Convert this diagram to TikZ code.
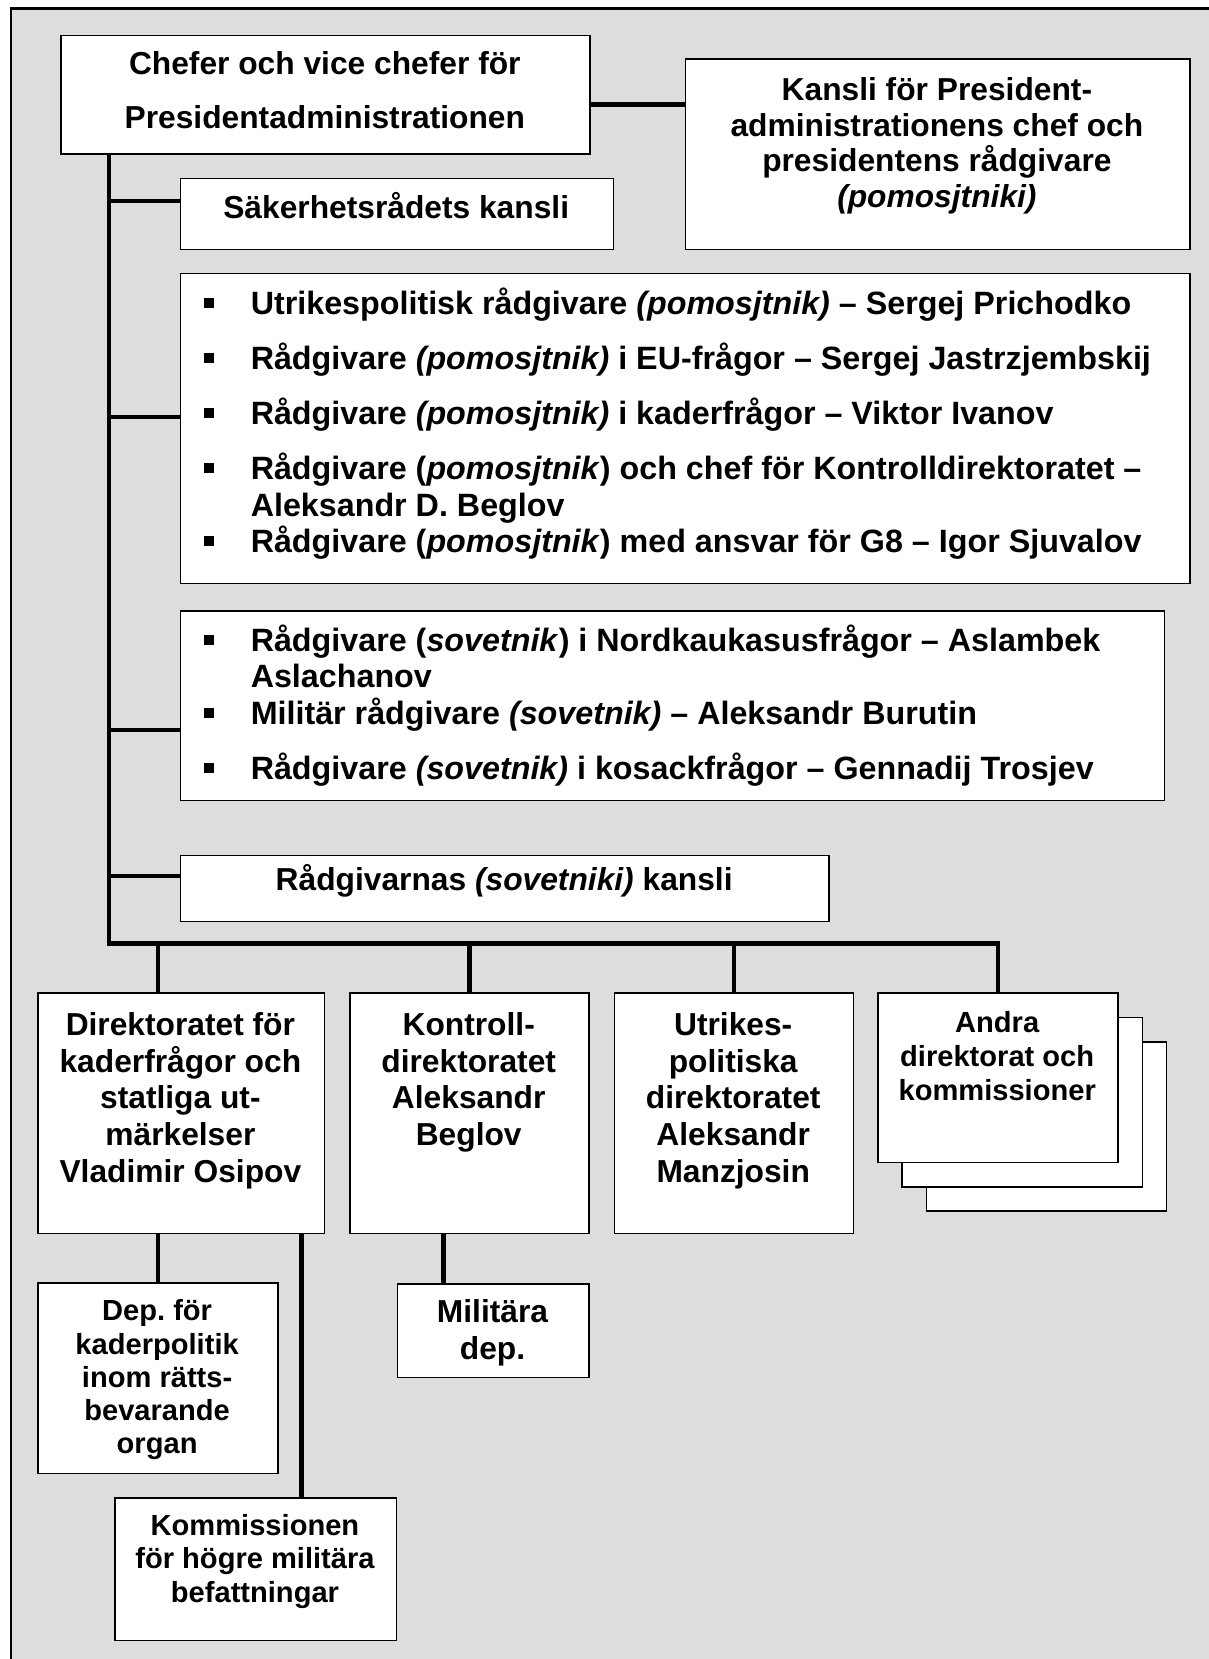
\documentclass[tikz,border=0pt]{standalone}
\usepackage{fontspec}
\setmainfont{Liberation Sans}
\frenchspacing
\definecolor{panel}{RGB}{221,221,221}
% fixed-height strut: every text block's first baseline sits 15pt below its top
\newcommand\tstr{\rule{0pt}{15pt}}
% square list bullet and hanging indent
\newcommand\bul{\makebox[22.3pt][l]{\raisebox{3pt}{\rule{4.75pt}{4.75pt}}}}
\newcommand\hang{\hspace*{22.3pt}}
\begin{document}
\begin{tikzpicture}[x=0.5pt,y=-0.5pt,
  box/.style={draw=black, fill=white, line width=0.7pt, anchor=north west, inner sep=0pt},
  conn/.style={draw=black, line width=2.2pt},
  lbl/.style={anchor=north, align=center, inner sep=0pt},
  big/.style={font=\bfseries\fontsize{15}{17.3}\selectfont},
  list/.style={anchor=north west, align=left, inner sep=0pt,
    font=\bfseries\fontsize{15.25}{17.25}\selectfont}]
\useasboundingbox (0,0) rectangle (1142,1568);
\fill[white] (0,0) rectangle (1142,1568);
\filldraw[fill=panel, draw=black, line width=1pt] (10.5,8) rectangle (1170,1600);

% ---- boxes ----
\node[box, minimum width=250pt,   minimum height=56pt]   (top)    at (57,33)   {};
\node[box, minimum width=238.5pt, minimum height=90pt]   (kansli) at (647,55)  {};
\node[box, minimum width=204.5pt, minimum height=33.5pt] (sak)    at (170,168) {};
\node[box, minimum width=477pt,   minimum height=146.5pt](pom)    at (170,258) {};
\node[box, minimum width=465pt,   minimum height=89.5pt] (sov)    at (170,577) {};
\node[box, minimum width=306.5pt, minimum height=31pt]   (radk)   at (170,808) {};
\node[box, minimum width=135.5pt, minimum height=113.5pt](dirA)   at (35,938)  {};
\node[box, minimum width=113pt,   minimum height=113.5pt](dirB)   at (330,938) {};
\node[box, minimum width=113pt,   minimum height=113.5pt](dirC)   at (580,938) {};
\node[box, minimum width=113.5pt, minimum height=80pt]   (dirD3)  at (875,984) {};
\node[box, minimum width=113.5pt, minimum height=80pt]   (dirD2)  at (852,961) {};
\node[box, minimum width=113.5pt, minimum height=80pt]   (dirD)   at (829,938) {};
\node[box, minimum width=113.5pt, minimum height=90pt]   (dep)    at (35,1212) {};
\node[box, minimum width=90.5pt,  minimum height=44pt]   (mil)    at (375,1213){};
\node[box, minimum width=133pt,   minimum height=67.5pt] (kom)    at (108,1415){};

% ---- connector points ----
\coordinate (corner) at (103,892);
\coordinate (hy) at (0,99);
\coordinate (j1) at (103,190);
\coordinate (j2) at (103,394);
\coordinate (j3) at (103,690);
\coordinate (j4) at (103,828);
\coordinate (kx) at (285,0);
\coordinate (mx) at (419,0);

% ---- connectors ----
\draw[conn] (top.east |- hy) -- (kansli.west |- hy);
\draw[conn] (top.south -| corner) -- (corner) -- (corner -| dirD.north) -- (dirD.north);
\draw[conn] (j1) -- (j1 -| sak.west);
\draw[conn] (j2) -- (j2 -| pom.west);
\draw[conn] (j3) -- (j3 -| sov.west);
\draw[conn] (j4) -- (j4 -| radk.west);
\draw[conn] (corner -| dep.north) -- (dirA.north -| dep.north);
\draw[conn] (corner -| dirB.north) -- (dirB.north);
\draw[conn] (corner -| dirC.north) -- (dirC.north);
\draw[conn] (dirA.south -| dep.north) -- (dep.north);
\draw[conn] (dirA.south -| kx) -- (kom.north -| kx);
\draw[conn] (dirB.south -| mx) -- (mil.north -| mx);

% ---- texts ----
\node[lbl, font=\bfseries\fontsize{15}{25.75}\selectfont] (topt) at (307,40)
  {\tstr Chefer och vice chefer för\\Presidentadministrationen};
\node[lbl, font=\bfseries\fontsize{15}{16.9}\selectfont] (kanslit) at (885.5,64.5)
  {\tstr Kansli för President-\\administrationens chef och\\presidentens rådgivare\\\textit{(pomosjtniki)}};
\node[lbl, big] (sakt) at (374.5,176) {\tstr Säkerhetsrådets kansli};
\node[list] (pomt) at (192,267)
  {\tstr\bul Utrikespolitisk rådgivare \textit{(pomosjtnik)} – Sergej Prichodko\\[8.75pt]
   \bul Rådgivare \textit{(pomosjtnik)} i EU-frågor – Sergej Jastrzjembskij\\[8.75pt]
   \bul Rådgivare \textit{(pomosjtnik)} i kaderfrågor – Viktor Ivanov\\[8.75pt]
   \bul Rådgivare (\textit{pomosjtnik}) och chef för Kontrolldirektoratet –\\
   \hang Aleksandr D. Beglov\\
   \bul Rådgivare (\textit{pomosjtnik}) med ansvar för G8 – Igor Sjuvalov};
\node[list] (sovt) at (192,585)
  {\tstr\bul Rådgivare (\textit{sovetnik}) i Nordkaukasusfrågor – Aslambek\\
   \hang Aslachanov\\
   \bul Militär rådgivare \textit{(sovetnik)} – Aleksandr Burutin\\[8.75pt]
   \bul Rådgivare \textit{(sovetnik)} i kosackfrågor – Gennadij Trosjev};
\node[lbl, big] (radkt) at (476.5,811) {\tstr Rådgivarnas \textit{(sovetniki)} kansli};
\node[lbl, big] (dirAt) at (170.5,948.5)
  {\tstr Direktoratet för\\kaderfrågor och\\statliga ut-\\märkelser\\Vladimir Osipov};
\node[lbl, big] (dirBt) at (443,948.5)
  {\tstr Kontroll-\\direktoratet\\Aleksandr\\Beglov};
\node[lbl, big] (dirCt) at (693,948.5)
  {\tstr Utrikes-\\politiska\\direktoratet\\Aleksandr\\Manzjosin};
\node[lbl, font=\bfseries\fontsize{13.75}{16}\selectfont] (dirDt) at (942.5,945.5)
  {\tstr Andra\\direktorat och\\kommissioner};
\node[lbl, font=\bfseries\fontsize{13.75}{15.7}\selectfont] (dept) at (148.5,1218)
  {\tstr Dep. för\\kaderpolitik\\inom rätts-\\bevarande\\organ};
\node[lbl, big] (milt) at (465.5,1219.5) {\tstr Militära\\dep.};
\node[lbl, font=\bfseries\fontsize{13.75}{15.75}\selectfont] (komt) at (241,1421)
  {\tstr Kommissionen\\för högre militära\\befattningar};
\end{tikzpicture}
\end{document}
